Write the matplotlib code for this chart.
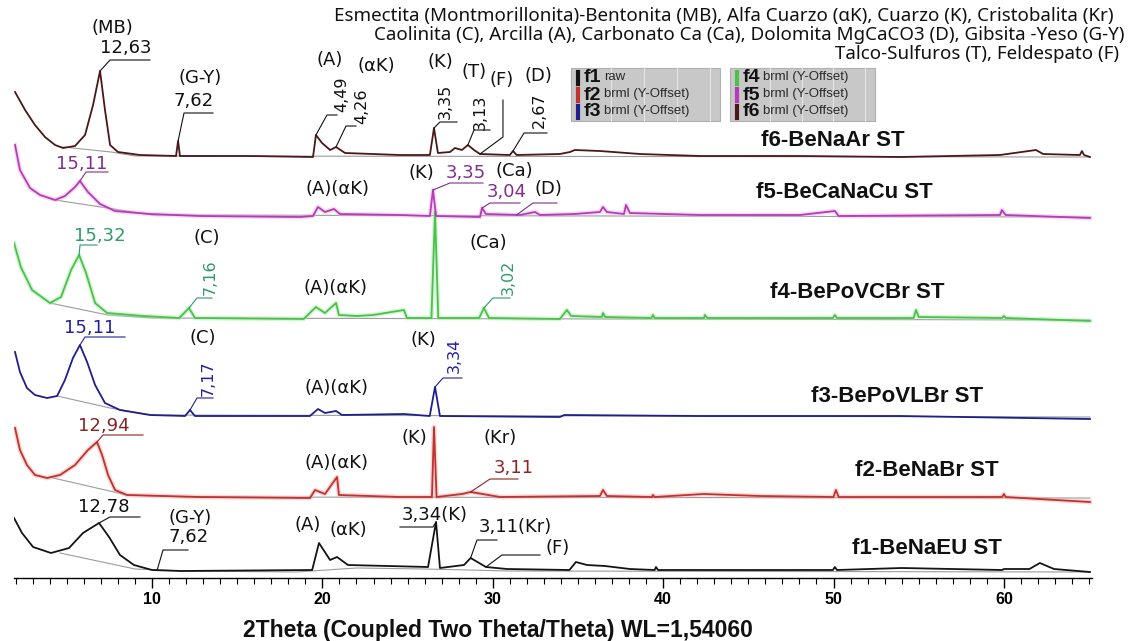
import matplotlib
matplotlib.use("Agg")
import matplotlib.pyplot as plt
import numpy as np
from matplotlib.patches import Rectangle

W, H = 1135, 641

# ---- data: 2Theta (deg) and intensity above each trace's own baseline ----
tt_f1 = [1.9, 2.37, 3.02, 4.07, 5.13, 5.95, 6.89, 7.48, 8.12, 8.94, 10.0, 11.7, 19.4, 19.8, 20.45,
         20.86, 21.5, 26.2, 26.67, 26.9, 28.31, 28.7, 29.6, 30.83, 34.5, 34.88, 35.53, 36.58, 38.05,
         39.5, 39.58, 39.7, 49.96, 50.08, 50.2, 54.0, 59.9, 60.0, 61.5, 62.11, 62.94, 65.05]
i_f1 = [54, 39, 25, 19, 24, 39, 49, 35, 17, 7, 2, 1, 2, 29, 12,
        15, 7, 5, 50, 4, 7, 14, 5, 3, 2, 10, 7, 6, 3,
        2, 5, 2, 2, 5, 2, 4, 2, 3, 3, 9, 3, 0]

tt_f2 = [1.96, 2.25, 2.66, 3.13, 3.84, 4.6, 5.48, 6.24, 6.77, 7.07, 7.42, 7.83, 8.53, 12.82, 19.27,
         19.57, 20.15, 20.86, 20.97, 24.55, 26.43, 26.55, 26.7, 28.2, 28.7, 29.4, 30.42, 36.29, 36.47,
         36.7, 39.34, 39.4, 39.5, 42.39, 45.68, 50.0, 50.14, 50.3, 59.9, 60.0, 60.1, 65.05]
i_f2 = [70, 48, 33, 23, 20, 23, 33, 48, 56, 43, 23, 8, 3, 1, 0,
        8, 4, 21, 3, 1, 1, 71, 1, 4, 6, 4, 1, 2, 8,
        2, 1, 3, 1, 4, 2, 1, 8, 1, 1, 4, 1, -4]

tt_f3 = [1.96, 2.25, 2.66, 3.13, 3.84, 4.43, 4.89, 5.36, 5.77, 6.19, 6.66, 7.24, 8.12, 9.88, 11.94,
         12.23, 12.52, 19.27, 19.74, 20.15, 20.8, 21.15, 24.79, 26.3, 26.61, 26.9, 33.94, 34.2, 42.16,
         53.9, 65.05]
i_f3 = [65, 45, 29, 22, 19, 21, 37, 59, 72, 55, 32, 14, 7, 2, 1,
        7, 1, 1, 8, 4, 6, 2, 3, 1, 30, 1, 0, 2, 1,
        1, -2]

tt_f4 = [1.9, 2.3, 2.96, 4.01, 4.66, 5.25, 5.72, 6.13, 6.66, 7.36, 9.47, 11.6, 12.17, 12.52, 18.9,
         19.62, 20.15, 20.8, 20.97, 22.03, 22.97, 24.79, 24.96, 26.4, 26.61, 26.8, 29.2, 29.48, 29.78,
         33.94, 34.35, 34.6, 36.4, 36.47, 36.6, 39.3, 39.4, 39.5, 42.4, 42.45, 42.6, 49.96, 50.08,
         50.2, 54.7, 54.84, 55.0, 59.9, 60.0, 60.1, 65.05]
i_f4 = [77, 53, 30, 17, 23, 50, 65, 47, 17, 7, 4, 2, 12, 2, 1,
        13, 7, 17, 5, 4, 5, 10, 2, 2, 108, 2, 2, 12, 2,
        1, 10, 4, 3, 7, 3, 2, 5, 2, 2, 5, 2, 2, 5,
        2, 2, 10, 3, 2, 4, 2, -1]

tt_f5 = [1.96, 2.25, 2.84, 3.43, 4.31, 4.89, 5.48, 5.77, 6.24, 6.95, 7.83, 9.88, 12.82, 18.69, 19.45,
         19.74, 20.15, 20.68, 21.03, 24.55, 26.31, 26.49, 26.67, 29.25, 29.37, 29.6, 31.6, 32.48, 32.77,
         34.82, 36.29, 36.47, 36.7, 37.7, 37.82, 38.05, 42.16, 48.03, 50.08, 50.3, 59.77, 59.88, 60.1,
         65.05]
i_f5 = [72, 47, 29, 22, 17, 21, 30, 36, 25, 13, 6, 3, 1, 0, 1,
        10, 5, 8, 3, 2, 1, 27, 1, 0, 9, 3, 2, 5, 2,
        3, 5, 10, 5, 3, 12, 4, 2, 2, 6, 1, 2, 7, 2,
        -1]

tt_f6 = [1.96, 2.55, 3.13, 3.72, 4.31, 4.78, 5.48, 6.07, 6.54, 6.95, 7.24, 7.54, 8.0, 9.3, 11.41,
         11.53, 11.64, 15.75, 19.45, 19.62, 19.98, 20.45, 20.8, 21.33, 24.55, 26.31, 26.55, 26.78, 27.49,
         27.78, 28.19, 28.54, 28.9, 29.25, 31.0, 31.19, 31.4, 33.94, 34.53, 34.82, 36.29, 38.64, 42.16,
         48.03, 53.9, 59.77, 61.88, 62.3, 64.46, 64.58, 64.7, 65.05]
i_f6 = [65, 47, 32, 20, 12, 9, 11, 22, 52, 86, 47, 12, 5, 2, 1,
        16, 1, 1, 0, 22, 14, 7, 10, 4, 2, 2, 29, 4, 5,
        9, 7, 12, 7, 3, 2, 6, 2, 3, 5, 7, 6, 3, 1,
        1, 0, 2, 7, 3, 2, 6, 2, 0]

# background (fitted) lines, same units
bg_tt = {'f1': [4.6, 9.0, 12.0, 18.5, 22.0, 26.0, 31.0, 65.05],
         'f2': [4.2, 8.53, 12.0, 65.05],
         'f3': [4.43, 7.54, 10.0, 65.05],
         'f4': [4.0, 7.4, 10.0, 65.05],
         'f5': [4.31, 7.0, 10.0, 65.05],
         'f6': [4.78, 7.6, 9.0, 65.05]}
bg_i = {'f1': [19, 3, 1, 0, 4, 3, 1, 0],
        'f2': [20, 3, 1, 0],
        'f3': [21, 9, 2, 0],
        'f4': [17, 5, 2, 0],
        'f5': [17, 10, 2, 0],
        'f6': [10, 5, 1, 0]}

names = ['f1', 'f2', 'f3', 'f4', 'f5', 'f6']
tt = {'f1': tt_f1, 'f2': tt_f2, 'f3': tt_f3, 'f4': tt_f4, 'f5': tt_f5, 'f6': tt_f6}
inten = {'f1': i_f1, 'f2': i_f2, 'f3': i_f3, 'f4': i_f4, 'f5': i_f5, 'f6': i_f6}
offsets = {'f1': 6, 'f2': 80, 'f3': 161, 'f4': 258, 'f5': 361, 'f6': 421}
sample_names = {'f1': 'f1-BeNaEU ST', 'f2': 'f2-BeNaBr ST', 'f3': 'f3-BePoVLBr ST',
                'f4': 'f4-BePoVCBr ST', 'f5': 'f5-BeCaNaCu ST', 'f6': 'f6-BeNaAr ST'}
legend_sub = {'f1': 'raw', 'f2': 'brml (Y-Offset)', 'f3': 'brml (Y-Offset)',
              'f4': 'brml (Y-Offset)', 'f5': 'brml (Y-Offset)', 'f6': 'brml (Y-Offset)'}

line_col = {'f1': '#141414', 'f2': '#c0322e', 'f3': '#1e1e8c',
            'f4': '#4cc04c', 'f5': '#b53cb5', 'f6': '#4a1818'}
halo_col = {'f2': '#f0a8a8', 'f4': '#a8e8a8', 'f5': '#e8b0e8'}
lab_col = {'f1': '#111111', 'f2': '#8b2323', 'f3': '#2020a0',
           'f4': '#2f9a6a', 'f5': '#7e2f8e', 'f6': '#111111'}

# peak labels with leaders: trace, peak 2theta, text, text pos (px), rotation, joint (px), end (px), coloured?
peak_labels = [
    ('f6', 6.95, '12,63', (126, 48), 0, (110, 60), (150, 60), True),
    ('f6', 11.53, '7,62', (194, 101), 0, (184, 113), (213, 113), True),
    ('f6', 19.62, '4,49', (342, 94), 90, (327, 115), (337, 115), True),
    ('f6', 20.8, '4,26', (362, 106), 90, (346, 126), (356, 126), True),
    ('f6', 26.55, '3,35', (445, 101), 90, (440, 122), (457, 122), True),
    ('f6', 28.54, '3,13', (480, 112), 90, (474, 130), (490, 130), True),
    ('f6', 29.25, '(F)', (502, 80), 0, (503, 137), (503, 100), False),
    ('f6', 31.19, '2,67', (539, 110), 90, (524, 133), (547, 133), True),
    ('f5', 5.77, '15,11', (82, 164), 0, (86, 172), (108, 172), True),
    ('f5', 26.49, '3,35', (466, 173), 0, (450, 183), (483, 183), True),
    ('f5', 29.37, '3,04', (507, 192), 0, (490, 203), (520, 203), True),
    ('f5', 31.4, '(D)', (548, 189), 0, (533, 203), (557, 203), False),
    ('f4', 5.72, '15,32', (100, 236), 0, (80, 245), (97, 245), True),
    ('f4', 12.17, '7,16', (210, 277), 90, (197, 298), (212, 298), True),
    ('f4', 29.48, '3,02', (508, 277), 90, (493, 298), (510, 298), True),
    ('f3', 5.77, '15,11', (90, 328), 0, (85, 337), (125, 337), True),
    ('f3', 12.23, '7,17', (208, 378), 90, (197, 398), (213, 398), True),
    ('f3', 26.61, '3,34', (454, 355), 90, (443, 378), (462, 378), True),
    ('f2', 6.77, '12,94', (104, 426), 0, (103, 435), (143, 435), True),
    ('f2', 28.7, '3,11', (514, 468), 0, (490, 479), (518, 479), True),
    ('f1', 6.89, '12,78', (104, 507), 0, (110, 517), (140, 517), False),
    ('f1', 10.3, '7,62', (189, 537), 0, (163, 550), (188, 550), False),
    ('f1', 26.67, '3,34(K)', (435, 515), 0, (433, 527), (400, 527), False),
    ('f1', 28.7, '3,11(Kr)', (515, 527), 0, (477, 540), (497, 540), False),
    ('f1', 29.6, '(F)', (558, 548), 0, (502, 555), (540, 555), False),
]

# plain phase labels (px positions)
phase_labels = [
    ('(MB)', 112, 28), ('(G-Y)', 200, 78), ('(A)', 330, 60), ('(αK)', 376, 66),
    ('(K)', 440, 62), ('(T)', 474, 72), ('(D)', 538, 76),
    ('(K)', 421, 173), ('(Ca)', 514, 171), ('(A)(αK)', 338, 189),
    ('(C)', 207, 238), ('(A)(αK)', 336, 288), ('(Ca)', 488, 243),
    ('(C)', 203, 338), ('(A)(αK)', 337, 388), ('(K)', 423, 340),
    ('(A)(αK)', 337, 463), ('(K)', 414, 438), ('(Kr)', 500, 438),
    ('(G-Y)', 190, 518), ('(A)', 308, 525), ('(αK)', 348, 530),
]

sample_pos = {'f6': (833, 140), 'f5': (844, 193), 'f4': (857, 292),
              'f3': (897, 397), 'f2': (927, 470), 'f1': (927, 549)}

key_lines = [
    ('Esmectita (Montmorillonita)-Bentonita (MB), Alfa Cuarzo (αK), Cuarzo (K), Cristobalita (Kr)', 1114, 16),
    ('Caolinita (C), Arcilla (A), Carbonato Ca (Ca), Dolomita MgCaCO3 (D), Gibsita -Yeso (G-Y)', 1125, 35),
    ('Talco-Sulfuros (T), Feldespato (F)', 1119, 54),
]

# ---- figure ----
fig = plt.figure(figsize=(W / 100, H / 100), dpi=100)
ax_bottom_px = 578
ax = fig.add_axes([14 / W, (H - ax_bottom_px) / H, (1092 - 14) / W, ax_bottom_px / H])
ax.set_xlim(1.9, 65.17)
ax.set_ylim(0, ax_bottom_px)


def px_x(px):
    # pixel column -> 2Theta
    return 1.08 + px / 17.04


def px_y(py):
    # pixel row -> axis units
    return ax_bottom_px - py


for n in names:
    x = np.array(tt[n])
    y = np.array(inten[n]) + offsets[n]
    ax.plot(bg_tt[n], np.array(bg_i[n]) + offsets[n], color='#9c9c9c', lw=0.8, zorder=1)
    if n in halo_col:
        ax.plot(x, y, color=halo_col[n], lw=3.4, alpha=0.45, solid_joinstyle='round', zorder=2)
    ax.plot(x, y, color=line_col[n], lw=1.3, zorder=3)
    sx, sy = sample_pos[n]
    ax.text(px_x(sx), px_y(sy), sample_names[n], ha='center', va='center',
            fontsize=16, fontweight='bold', family='Liberation Sans', color='#111111')

for n, pk, txt, (tx, ty), rot, (jx, jy), (ex, ey), coloured in peak_labels:
    y0 = offsets[n] + np.interp(pk, tt[n], inten[n])
    lc = lab_col[n]
    ax.plot([pk, px_x(jx), px_x(ex)], [y0, px_y(jy), px_y(ey)], color=lc, lw=0.8, zorder=4)
    ax.text(px_x(tx), px_y(ty), txt, ha='center', va='center', rotation=rot,
            fontsize=11.5 if rot else 13, color=lc if coloured else '#111111',
            family='DejaVu Sans')

for txt, tx, ty in phase_labels:
    ax.text(px_x(tx), px_y(ty), txt, ha='center', va='center', fontsize=13,
            color='#111111', family='DejaVu Sans')

# axis styling
for s in ['left', 'right', 'top']:
    ax.spines[s].set_visible(False)
ax.spines['bottom'].set_linewidth(1.0)
ax.set_yticks([])
ax.set_xticks([10, 20, 30, 40, 50, 60])
ax.set_xticks(np.arange(2, 66, 1), minor=True)
ax.tick_params(axis='x', which='major', length=7, width=1, direction='out', pad=3)
ax.tick_params(axis='x', which='minor', length=4, width=0.8, direction='out')
for lab in ax.get_xticklabels():
    lab.set_fontweight('bold')
    lab.set_fontsize(11.5)
    lab.set_family('Liberation Sans')

fig.text(498 / W, 1 - 631 / H, '2Theta (Coupled Two Theta/Theta) WL=1,54060', ha='center', va='center',
         fontsize=16.5, fontweight='bold', family='Liberation Sans', color='#111111')

for txt, rx, ry in key_lines:
    fig.text(rx / W, 1 - ry / H, txt, ha='right', va='center', fontsize=13.5,
             family='Noto Sans', color='#111111')

# legend boxes
boxes = [(['f1', 'f2', 'f3'], 571, 720), (['f4', 'f5', 'f6'], 730, 875)]
for keys, x0, x1 in boxes:
    fig.patches.append(Rectangle((x0 / W, 1 - 121 / H), (x1 - x0) / W, 53 / H,
                                 transform=fig.transFigure, facecolor='#c8c8c8',
                                 edgecolor='#b0b0b0', lw=0.8, zorder=0))
    for gx in np.linspace(x0 + 40, x1 - 10, 4):
        fig.lines.append(plt.Line2D([gx / W, gx / W], [1 - 121 / H, 1 - 68 / H],
                                    transform=fig.transFigure, color='#e4e4e4', lw=0.8))
    for k, key in enumerate(keys):
        ry = 78 + 17 * k
        fig.lines.append(plt.Line2D([(x0 + 7) / W] * 2, [1 - (ry + 6) / H, 1 - (ry - 6) / H],
                                    transform=fig.transFigure, color=line_col[key], lw=3))
        fig.text((x0 + 13) / W, 1 - ry / H, key, ha='left', va='center', fontsize=14,
                 fontweight='bold', family='Liberation Sans', color='#111111')
        fig.text((x0 + 33) / W, 1 - (ry - 1) / H, legend_sub[key], ha='left', va='center',
                 fontsize=9.5, family='Liberation Sans', color='#2a2a2a')

fig.savefig('out.png', dpi=100)
